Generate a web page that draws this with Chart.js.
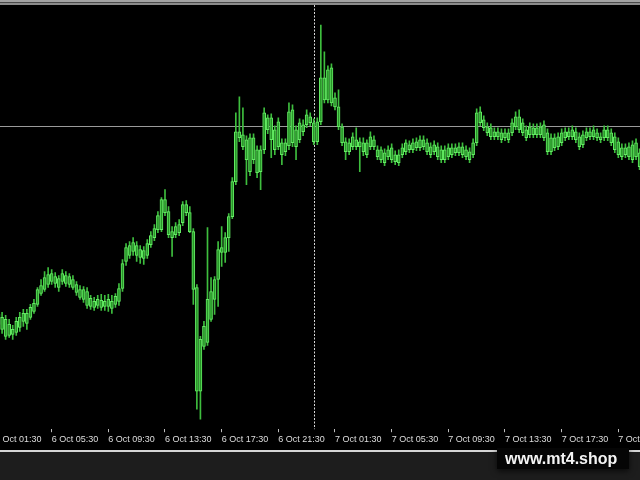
<!DOCTYPE html>
<html>
<head>
<meta charset="utf-8">
<script src="https://cdn.jsdelivr.net/npm/chart.js@4.4.1/dist/chart.umd.min.js"></script>
<style>
  html, body { margin: 0; padding: 0; background: #000; }
  canvas { display: block; }
</style>
</head>
<body>
<canvas id="chart" width="640" height="480"></canvas>
<script>
// M15 candles, 6 Oct 01:30 onwards (price in points)
const opens = [
  102,115,112,110,105,95,97,102,116,106,
  112,118,125,136,140,145,156,153,142,156,
  154,153,150,145,140,140,138,131,122,130,
  129,123,130,121,125,128,141,168,174,187,
  184,180,171,174,185,192,200,200,230,218,
  192,195,197,207,225,217,198,142,38,83,
  87,110,130,150,177,177,192,213,248,298,
  295,290,258,292,257,258,280,312,312,280,
  308,275,278,284,320,283,290,298,315,313,
  288,288,308,330,360,362,332,323,303,288,
  278,293,290,288,287,275,293,290,280,280,
  267,280,282,275,267,275,287,280,280,282,
  282,290,287,275,285,283,280,270,273,275,
  277,283,283,280,270,275,287,318,310,303,
  302,298,298,290,297,290,297,313,313,307,
  292,303,302,295,303,305,297,278,282,283,
  287,292,293,300,298,283,285,292,293,300,
  297,290,300,300,297,293,288,273,282,283,
  270,287,277
];
const highs = [
  116,118,117,114,110,104,112,117,120,120,
  125,130,142,150,158,162,160,157,154,160,
  158,156,154,148,144,143,142,134,132,134,
  135,134,135,134,136,146,170,186,188,192,
  188,184,183,190,198,205,218,232,240,223,
  203,207,210,228,229,223,201,145,93,108,
  202,152,153,188,203,197,216,252,317,333,
  322,294,296,296,284,284,322,315,316,304,
  312,291,291,327,325,304,311,310,320,317,
  311,312,405,378,364,366,337,340,306,292,
  291,297,302,292,292,290,298,294,284,283,
  281,284,286,279,280,286,290,289,291,292,
  294,294,291,287,289,287,284,284,286,286,
  286,287,287,284,282,291,321,323,314,307,
  306,302,302,301,301,301,311,318,320,311,
  304,307,306,306,307,309,301,296,296,297,
  301,302,302,304,302,297,299,302,302,304,
  301,297,304,304,301,297,292,286,286,287,
  289,291,281
];
const lows = [
  98,100,96,90,92,90,94,98,103,100,
  110,116,123,134,138,142,145,142,138,145,
  143,142,140,134,130,127,121,120,119,121,
  119,119,118,116,122,124,138,164,171,174,
  168,166,165,171,182,189,197,198,214,192,
  173,192,194,204,214,197,125,20,10,80,
  84,108,115,123,163,167,178,211,245,288,
  280,245,254,266,252,240,276,296,272,275,
  280,265,274,280,283,270,287,294,302,304,
  285,285,305,327,327,324,320,300,284,270,
  275,280,280,258,274,272,280,280,270,267,
  264,270,267,265,264,272,275,277,277,279,
  279,280,275,272,275,270,267,267,270,272,
  274,274,272,270,267,272,284,304,299,294,
  290,290,290,287,289,287,294,300,297,294,
  289,292,292,292,292,289,275,275,279,280,
  284,289,290,290,287,280,282,289,290,290,
  289,287,289,289,284,277,272,270,272,270,
  267,270,260
];
const closes = [
  112,105,100,93,94,100,108,112,108,116,
  122,126,140,144,152,155,148,146,151,148,
  146,145,142,137,132,130,124,123,128,124,
  122,128,123,128,133,141,166,182,184,178,
  174,172,179,186,194,201,214,230,217,195,
  198,203,205,225,217,198,140,38,90,103,
  130,138,150,180,182,192,213,248,298,292,
  283,270,292,270,280,280,317,300,290,300,
  283,287,287,318,287,300,307,305,305,307,
  307,308,352,352,330,327,323,303,287,278,
  287,283,283,283,278,287,283,283,273,270,
  277,273,270,268,275,282,278,285,287,288,
  290,283,278,283,278,273,270,280,282,282,
  282,277,275,273,278,287,317,307,302,297,
  293,293,293,297,292,297,307,303,300,297,
  300,295,295,302,295,292,278,292,292,293,
  297,298,298,293,290,293,295,298,298,293,
  292,293,292,292,287,280,275,282,275,273,
  285,273,263
];

const tickIndex = [0, 16, 32, 48, 64, 80, 96, 112, 128, 144, 160, 176];
const tickLabels = ['6 Oct 01:30', '6 Oct 05:30', '6 Oct 09:30', '6 Oct 13:30', '6 Oct 17:30', '6 Oct 21:30',
                    '7 Oct 01:30', '7 Oct 05:30', '7 Oct 09:30', '7 Oct 13:30', '7 Oct 17:30', '7 Oct 21:30'];

const levelPrice = 304;      // horizontal line
const separatorIndex = 90;   // 7 Oct 00:00
const watermark = 'www.mt4.shop';

const wicks = lows.map((l, i) => ({x: i, y: [l, highs[i]]}));
const bodies = opens.map((o, i) => ({x: i, y: [o, closes[i]]}));

const terminal = {
    id: 'terminal',
    beforeDraw(c) {
        const ctx = c.ctx;
        ctx.save();
        ctx.fillStyle = '#000';
        ctx.fillRect(0, 0, 640, 450);
        ctx.fillStyle = '#a2a2a2';
        ctx.fillRect(0, 0, 640, 2);
        ctx.fillStyle = '#4a4a4a';
        ctx.fillRect(0, 2, 640, 1);
        ctx.fillStyle = '#8c8c8c';
        ctx.fillRect(0, 3, 640, 2);
        ctx.fillStyle = '#d6d6d6';
        ctx.fillRect(0, 450, 640, 2);
        ctx.fillStyle = '#1d1d1d';
        ctx.fillRect(0, 452, 640, 28);
        ctx.restore();
    },
    beforeDatasetsDraw(c) {
        const ctx = c.ctx;
        const a = c.chartArea;
        const yl = Math.round(c.scales.y.getPixelForValue(levelPrice)) + 0.5;
        const xs = Math.round(c.scales.x.getPixelForValue(separatorIndex)) + 0.5;
        ctx.save();
        ctx.lineWidth = 1;
        ctx.strokeStyle = '#9a9a9a';
        ctx.beginPath();
        ctx.moveTo(a.left, yl);
        ctx.lineTo(a.right, yl);
        ctx.stroke();
        ctx.strokeStyle = '#d8d8d8';
        ctx.setLineDash([2, 1.5]);
        ctx.beginPath();
        ctx.moveTo(xs, a.top);
        ctx.lineTo(xs, a.bottom);
        ctx.stroke();
        ctx.restore();
    },
    afterDraw(c) {
        const ctx = c.ctx;
        ctx.save();
        ctx.shadowColor = 'rgba(0,0,0,0.7)';
        ctx.shadowBlur = 6;
        ctx.shadowOffsetY = 2;
        ctx.fillStyle = '#050505';
        ctx.fillRect(497, 448, 132, 21);
        ctx.shadowColor = 'transparent';
        ctx.fillStyle = '#f4f4f4';
        ctx.font = 'bold 16px "Liberation Sans", Arial, sans-serif';
        ctx.textBaseline = 'alphabetic';
        ctx.fillText(watermark, 505, 464);
        ctx.restore();
    }
};

const chart = new Chart(document.getElementById('chart'), {
    type: 'bar',
    data: {
        datasets: [{
            label: 'wick',
            data: wicks,
            backgroundColor: 'rgb(62, 190, 62)',
            borderWidth: 0,
            barThickness: 1,
            grouped: false,
            order: 1
        }, {
            label: 'body',
            data: bodies,
            backgroundColor: 'rgb(40, 150, 40)',
            borderColor: 'rgb(100, 235, 100)',
            borderWidth: 1,
            borderSkipped: false,
            barThickness: 3,
            grouped: false,
            order: 0
        }]
    },
    options: {
        responsive: false,
        animation: false,
        layout: {
            padding: {top: 5, left: 0, right: 0, bottom: 33}
        },
        plugins: {
            legend: {display: false},
            tooltip: {enabled: false}
        },
        scales: {
            x: {
                type: 'linear',
                min: 1.412,
                max: 182.12,
                offset: false,
                grid: {
                    offset: false,
                    drawOnChartArea: false,
                    drawTicks: true,
                    tickLength: 3,
                    color: '#bdbdbd'
                },
                border: {display: false},
                afterBuildTicks: s => {
                    s.ticks = tickIndex.map(v => ({value: v}));
                },
                afterFit: s => {
                    s.paddingLeft = 0;
                    s.paddingRight = 0;
                },
                ticks: {
                    autoSkip: false,
                    maxRotation: 0,
                    minRotation: 0,
                    align: 'start',
                    padding: 2,
                    color: '#dedede',
                    font: {family: '"Liberation Sans", Arial, sans-serif', size: 9},
                    callback: (v, i) => tickLabels[i]
                }
            },
            y: {
                display: false,
                min: 0,
                max: 425
            }
        }
    },
    plugins: [terminal]
});
</script>
</body>
</html>
